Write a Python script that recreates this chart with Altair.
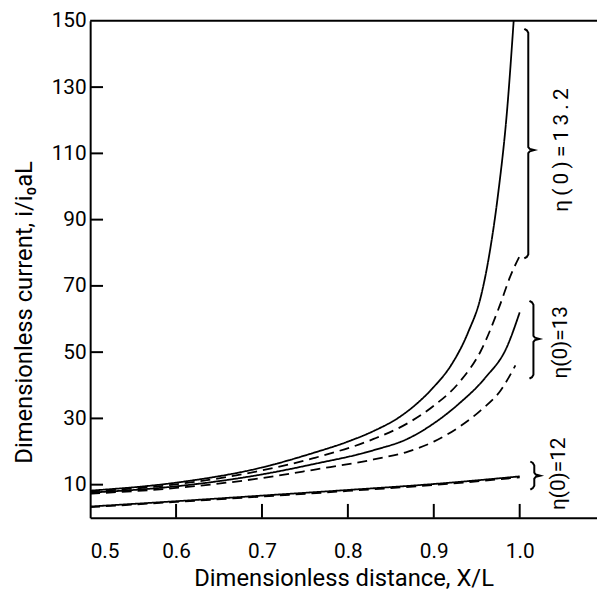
import altair as alt
import pandas as pd

# ---- curve data ----
x_132_solid = [0.5, 0.6, 0.7, 0.76, 0.8, 0.83, 0.86, 0.88, 0.9, 0.92, 0.94, 0.955, 0.965, 0.975, 0.985, 0.993]
y_132_solid = [8.2, 10.6, 15.2, 19.6, 23.0, 26.2, 30.4, 34.4, 39.5, 46.0, 56.0, 67.0, 80.0, 98.0, 122.0, 150.0]

x_132_dash = [0.5, 0.6, 0.7, 0.76, 0.83, 0.87, 0.9, 0.93, 0.955, 0.976, 0.99, 1.0]
y_132_dash = [7.9, 10.1, 14.3, 18.0, 23.8, 28.6, 33.8, 41.0, 50.5, 63.5, 73.5, 79.0]

x_13_solid = [0.5, 0.6, 0.7, 0.76, 0.83, 0.87, 0.9, 0.93, 0.96, 0.985, 1.0]
y_13_solid = [7.6, 9.5, 13.1, 16.2, 20.4, 23.9, 28.5, 34.6, 42.3, 51.5, 62.0]

x_13_dash = [0.5, 0.6, 0.7, 0.76, 0.83, 0.87, 0.9, 0.93, 0.955, 0.978, 0.995]
y_13_dash = [7.3, 9.0, 12.0, 14.5, 17.6, 20.0, 23.0, 27.5, 32.5, 38.5, 46.0]

x_12_solid = [0.5, 0.6, 0.7, 0.8, 0.9, 1.0]
y_12_solid = [3.4, 5.0, 6.7, 8.4, 10.2, 12.5]

x_12_dash = [0.5, 0.6, 0.7, 0.8, 0.9, 1.0]
y_12_dash = [3.2, 4.8, 6.4, 8.1, 9.9, 12.2]

# ---- axis ticks ----
x_labels = [0.5, 0.6, 0.7, 0.8, 0.9, 1.0]
x_ticks = [0.6, 0.7, 0.8, 0.9, 1.0]
y_labels = [10, 30, 50, 70, 90, 110, 130, 150]
y_ticks = [10, 30, 50, 70, 90, 110, 130]

# ---- braces and their labels ----
brace_x = [1.010, 1.016, 1.017]
brace_top = [147.6, 65.5, 17.0]
brace_bot = [78.3, 42.0, 8.5]
brace_mid = [111.0, 54.0, 12.7]
label_text = ["η\u2009(\u20090\u2009)\u2009=\u20091\u20093\u2009.\u20092", "η(0)=13", "η(0)=12"]
label_x = [1.0495, 1.048, 1.046]
label_y = [111.0, 53.0, 13.3]

W, H = 512, 502
X_DOM = [0.5, 1.09]
Y_DOM = [0, 150]
FONT = "Roboto"

rows = []
for name, dash, xs, ys in [
    ("13.2 solid", "solid", x_132_solid, y_132_solid),
    ("13.2 dashed", "dashed", x_132_dash, y_132_dash),
    ("13 solid", "solid", x_13_solid, y_13_solid),
    ("13 dashed", "dashed", x_13_dash, y_13_dash),
    ("12 solid", "solid", x_12_solid, y_12_solid),
    ("12 dashed", "dashed", x_12_dash, y_12_dash),
]:
    for i, (a, b) in enumerate(zip(xs, ys)):
        rows.append({"series": name, "dash": dash, "x": a, "y": b, "o": i})
df = pd.DataFrame(rows)

xscale = alt.Scale(domain=X_DOM, nice=False, zero=False)
yscale = alt.Scale(domain=Y_DOM, nice=False, zero=False)

x_axis = alt.Axis(
    values=x_labels, format=".1f", title="Dimensionless distance, X/L",
    labelPadding=23, titleY=61, titleBaseline="middle", titleFontSize=24,
)
y_axis = alt.Axis(
    values=y_labels, format="d", title="Dimensionless current, i/i₀aL",
    labelPadding=4, titleX=-59, titleY=294, titleAngle=270,
    titleBaseline="alphabetic", titleAlign="center", titleFontSize=24,
)

X = lambda: alt.X("x:Q", scale=xscale, axis=x_axis)
Y = lambda: alt.Y("y:Q", scale=yscale, axis=y_axis)

lines = alt.Chart(df).mark_line(color="black", strokeWidth=1.8, clip=True, interpolate="monotone").encode(
    x=X(), y=Y(),
    detail="series:N",
    order="o:Q",
    strokeDash=alt.StrokeDash("dash:N", scale=alt.Scale(domain=["solid", "dashed"], range=[[1, 0], [10, 6]]), legend=None),
)

# inward tick marks
xt = alt.Chart(pd.DataFrame({"x": x_ticks})).mark_rule(color="black", strokeWidth=2).encode(
    x=X(), y=alt.value(H), y2=alt.value(H - 14)
)
yt = alt.Chart(pd.DataFrame({"y": y_ticks})).mark_rule(color="black", strokeWidth=2).encode(
    y=Y(), x=alt.value(0), x2=alt.value(13)
)
top_line = alt.Chart(pd.DataFrame({"a": [0]})).mark_rule(color="black", strokeWidth=2).encode(
    x=alt.value(0), x2=alt.value(W), y=alt.value(0)
)

# braces
px = (X_DOM[1] - X_DOM[0]) / W
py = (Y_DOM[1] - Y_DOM[0]) / H
brows = []
for k, (bx, bt, bb, bm) in enumerate(zip(brace_x, brace_top, brace_bot, brace_mid)):
    pts = [
        (-4, bt), (-1.5, bt - 1.5 * py), (0, bt - 4 * py),
        (0, bm + 3 * py), (1.5, bm + 1.2 * py), (6, bm), (1.5, bm - 1.2 * py), (0, bm - 3 * py),
        (0, bb + 4 * py), (-1.5, bb + 1.5 * py), (-4, bb),
    ]
    for i, (dx, yy) in enumerate(pts):
        brows.append({"brace": k, "o": i, "x": bx + dx * px, "y": yy})
bdf = pd.DataFrame(brows)
braces = alt.Chart(bdf).mark_line(color="black", strokeWidth=2).encode(
    x=X(), y=Y(),
    detail="brace:N",
    order="o:Q",
)

ldf = pd.DataFrame({"t": label_text, "x": label_x, "y": label_y})
labels = alt.Chart(ldf).mark_text(
    angle=270, align="center", baseline="middle", font=FONT, fontSize=21, color="black"
).encode(
    x=X(), y=Y(),
    text="t:N",
)

chart = alt.layer(lines, xt, yt, top_line, braces, labels).properties(
    width=W, height=H,
    padding={"left": 83, "top": 10, "right": 0, "bottom": 75},
    autosize=alt.AutoSizeParams(type="none"),
    background="white",
).configure_view(stroke=None).configure_axis(
    domainColor="black", domainWidth=2, ticks=False, grid=False,
    labelFont=FONT, labelFontSize=21, labelColor="black",
    titleFont=FONT, titleColor="black", titleFontWeight="normal",
)

chart.save("out.html", embed_options={"renderer": "svg", "actions": False})
